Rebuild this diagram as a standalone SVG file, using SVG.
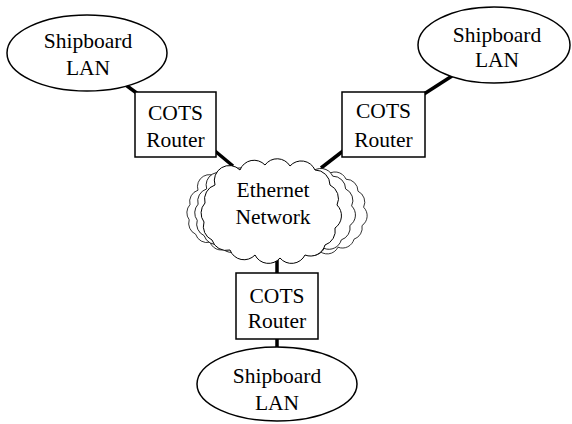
<svg xmlns="http://www.w3.org/2000/svg" xmlns:xlink="http://www.w3.org/1999/xlink" width="572" height="424" viewBox="0 0 572 424">
<style>
.lan{fill:#fff;stroke:#000;stroke-width:1.5}
.box{fill:#fff;stroke:#000;stroke-width:1.5}
.cl{fill:#fff;stroke:#000;stroke-width:1}
.link{stroke:#000;stroke-width:3.5;fill:none}
.t{font-family:'Liberation Serif','Times New Roman','DejaVu Serif',serif;font-size:21.5px;fill:#000;text-anchor:middle}
</style>
<defs>
<path id="cloud" d="M-55,-26 A15,15 0 0 1 -30,-41 A15,15 0 0 1 -5,-46 A15,15 0 0 1 20,-45 A15,15 0 0 1 45,-41 A15,15 0 0 1 60,-26 A15,15 0 0 1 67,-6 A15,15 0 0 1 65,17 A15,15 0 0 1 55,34 A15,15 0 0 1 35,44 A15,15 0 0 1 10,47 A15,15 0 0 1 -15,44 A15,15 0 0 1 -40,39 A15,15 0 0 1 -58,29 A15,15 0 0 1 -66,11 A15,15 0 0 1 -65,-8 A15,15 0 0 1 -55,-26 Z"/>
</defs>
<g id="connectors">
<line class="link" x1="123" y1="83" x2="138" y2="94"/>
<line class="link" x1="215" y1="151" x2="233" y2="166"/>
<line class="link" x1="452" y1="76" x2="424" y2="94"/>
<line class="link" x1="343" y1="151" x2="321" y2="168"/>
<line class="link" x1="277" y1="254" x2="277" y2="274"/>
<line class="link" x1="277" y1="338" x2="277" y2="349"/>
</g>
<g id="ethernet" font-family="Liberation Serif, serif">
<use href="#cloud" xlink:href="#cloud" class="cl" transform="translate(242,211) scale(0.8,0.8)"/>
<use href="#cloud" xlink:href="#cloud" class="cl" transform="translate(254,211) scale(0.86,0.85)"/>
<use href="#cloud" xlink:href="#cloud" class="cl" transform="translate(310,212) scale(0.8,0.8)"/>
<use href="#cloud" xlink:href="#cloud" class="cl" transform="translate(294,211) scale(0.86,0.85)"/>
<use href="#cloud" xlink:href="#cloud" class="cl" transform="translate(270,211)"/>
<text class="t" x="273" y="197">Ethernet</text>
<text class="t" x="273" y="224">Network</text>
</g>
<g id="lan-tl" font-family="Liberation Serif, serif">
<ellipse class="lan" cx="87" cy="53" rx="80" ry="38"/>
<text class="t" x="88" y="48">Shipboard</text>
<text class="t" x="88" y="75">LAN</text>
</g>
<g id="router-tl" font-family="Liberation Serif, serif">
<rect class="box" x="135" y="92" width="81" height="65"/>
<text class="t" x="175.5" y="120">COTS</text>
<text class="t" x="175.5" y="147">Router</text>
</g>
<g id="lan-tr" font-family="Liberation Serif, serif">
<ellipse class="lan" cx="494" cy="45" rx="76" ry="38"/>
<text class="t" x="497" y="42">Shipboard</text>
<text class="t" x="497" y="67">LAN</text>
</g>
<g id="router-tr" font-family="Liberation Serif, serif">
<rect class="box" x="342" y="92" width="83" height="65"/>
<text class="t" x="383.5" y="118">COTS</text>
<text class="t" x="383.5" y="147">Router</text>
</g>
<g id="router-b" font-family="Liberation Serif, serif">
<rect class="box" x="236" y="273" width="82" height="66"/>
<text class="t" x="277" y="303">COTS</text>
<text class="t" x="277" y="328">Router</text>
</g>
<g id="lan-b" font-family="Liberation Serif, serif">
<ellipse class="lan" cx="277" cy="384" rx="80" ry="37"/>
<text class="t" x="277" y="383">Shipboard</text>
<text class="t" x="277" y="410">LAN</text>
</g>
</svg>
